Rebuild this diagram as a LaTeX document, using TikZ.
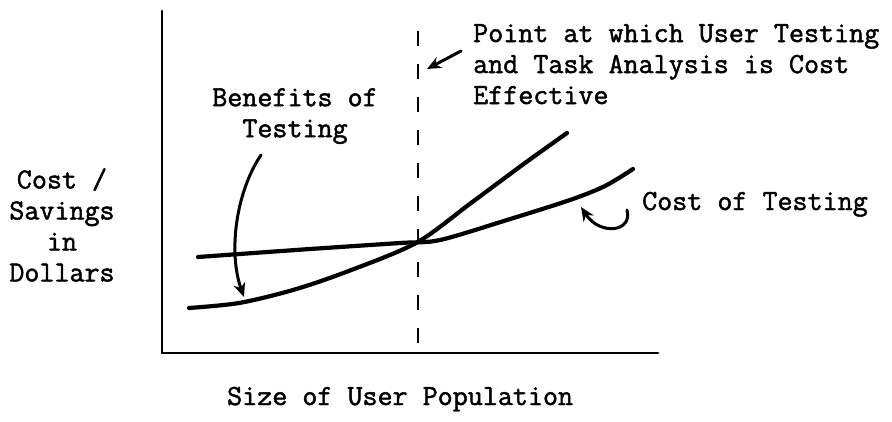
\documentclass[tikz,border=0pt]{standalone}
\usepackage{fontspec}
\newfontfamily\typefont{Latin Modern Mono}[FakeBold=1.6]
\usetikzlibrary{arrows.meta,positioning}
\tikzset{
  >={Stealth[length=14pt,width=12pt]},
  axisline/.style={line width=2.8pt, line cap=round},
  curve/.style   ={line width=4.2pt, line cap=round, line join=round},
  guide/.style   ={line width=2.8pt, dash pattern=on 15pt off 18pt},
  pointer/.style ={line width=3pt, ->, line cap=round},
  lbl/.style     ={font=\typefont\fontsize{29.2}{31}\selectfont, inner sep=0pt}
}

\begin{document}
\begin{tikzpicture}[x=1pt,y=-1pt]
\useasboundingbox (0,0) rectangle (892,421);

% axes
\coordinate (top)    at (162,11);
\coordinate (origin) at (162,353);
\coordinate (right)  at (658,353);
\draw[axisline] (top) -- (origin) -- (right);

% break-even guide
\coordinate (gtop) at (418,31);
\coordinate (gbot) at (418,353);
\draw[guide] (gtop) -- (gbot);

% cost of testing
\draw[curve] plot[smooth] coordinates {(198,257) (310,249) (400,243) (440,240) (507,220) (570,200) (605,186) (633,169)};
% benefits of testing
\draw[curve] plot[smooth] coordinates {(189,308) (239,303) (293,290) (346,272) (416,243) (471,203) (525,163) (567,133)};

% labels
\node[lbl, align=center, anchor=north] (yaxis) at (62,168) {Cost /\\Savings\\in\\Dollars};
\node[lbl, anchor=base west] (xaxis) at (227,405) {Size of User Population};
\node[lbl, align=center, anchor=north] (benefit) at (295,88) {Benefits of\\Testing};
\node[lbl, align=left, anchor=north west] (point) at (473,24) {Point at which User Testing\\and Task Analysis is Cost\\Effective};
\node[lbl, anchor=base west] (cost) at (642,210) {Cost of Testing};

% pointers
\coordinate (bfrom) at (261,155);
\coordinate (bto)   at (244,297);
\draw[pointer] (bfrom) .. controls (236,192) and (228,252) .. (bto);
\coordinate (pfrom) at (461,51);
\coordinate (pto)   at (427,69);
\draw[pointer] (pfrom) -- (pto);
\coordinate (cfrom) at (627,210);
\coordinate (cto)   at (581,207);
\draw[pointer] (cfrom) .. controls (633,232) and (600,236) .. (cto);
\end{tikzpicture}
\end{document}
